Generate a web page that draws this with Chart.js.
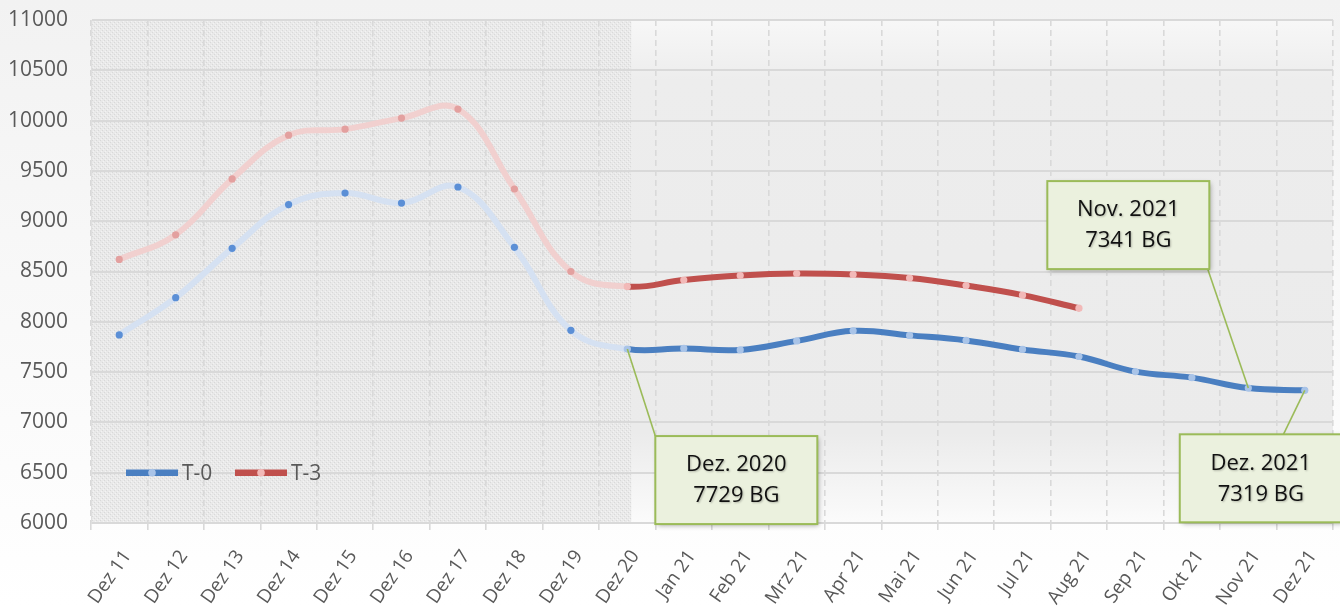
<!DOCTYPE html>
<html>
<head>
<meta charset="utf-8">
<script src="https://cdn.jsdelivr.net/npm/chart.js@4.4.1/dist/chart.umd.min.js"></script>
<style>
  html, body { margin: 0; padding: 0; background: #fff; }
  #wrap { width: 1340px; height: 606px; position: relative; }
</style>
</head>
<body>
<div id="wrap"><canvas id="c" width="1340" height="606"></canvas></div>
<script>
// ---- data ----
const categories = ['Dez 11','Dez 12','Dez 13','Dez 14','Dez 15','Dez 16','Dez 17','Dez 18','Dez 19','Dez 20',
  'Jan 21','Feb 21','Mrz 21','Apr 21','Mai 21','Jun 21','Jul 21','Aug 21','Sep 21','Okt 21','Nov 21','Dez 21'];
const seriesT0 = [7870, 8240, 8730, 9165, 9280, 9180, 9340, 8740, 7915, 7729,
  7735, 7720, 7810, 7910, 7865, 7815, 7725, 7655, 7505, 7445, 7341, 7319];
const seriesT3 = [8620, 8865, 9420, 9855, 9915, 10025, 10115, 9320, 8500, 8350,
  8415, 8460, 8480, 8470, 8435, 8360, 8265, 8135, null, null, null, null];
const seriesNames = ['T-0', 'T-3'];
const yMin = 6000, yMax = 11000, yStep = 500;
const historyEndIndex = 9; // Dez 20
const callouts = [
  { index: 9,  series: 0, lines: ['Dez. 2020', '7729 BG'] },
  { index: 20, series: 0, lines: ['Nov. 2021', '7341 BG'] },
  { index: 21, series: 0, lines: ['Dez. 2021', '7319 BG'] }
];

// ---- styles ----
const styles = [
  { pale: '#d5e1f2', strong: '#4a7fc1', paleDot: '#5b8fd6', strongDot: '#a9c4e8' },
  { pale: '#f1d0cf', strong: '#c0504d', paleDot: '#e3a09f', strongDot: '#f2b9b8' }
];
const calloutBoxes = [
  { dx: 28,   dy: 87,   w: 162, h: 88, ax: 0.0,  ay: 0.0 },
  { dx: -201, dy: -207, w: 162, h: 88, ax: 0.99, ay: 1.0 },
  { dx: -125, dy: 44,   w: 162, h: 88, ax: 0.64, ay: 0.0 }
];

function makePattern(ctx) {
  const p = document.createElement('canvas');
  p.width = 4; p.height = 4;
  const g = p.getContext('2d');
  g.fillStyle = '#e8e8e8'; g.fillRect(0, 0, 4, 4);
  g.fillStyle = '#d6d6d6';
  g.fillRect(0, 0, 1, 1); g.fillRect(2, 2, 1, 1);
  g.fillStyle = '#f3f3f3';
  g.fillRect(1, 3, 1, 1); g.fillRect(3, 1, 1, 1);
  return ctx.createPattern(p, 'repeat');
}

const bgPlugin = {
  id: 'bg',
  beforeDraw(chart) {
    const { ctx, chartArea: a, width, height } = chart;
    ctx.save();
    let g = ctx.createLinearGradient(0, 0, 0, height);
    g.addColorStop(0, '#f2f2f2');
    g.addColorStop(1, '#ffffff');
    ctx.fillStyle = g;
    ctx.fillRect(0, 0, width, height);
    g = ctx.createLinearGradient(0, a.top, 0, a.bottom);
    g.addColorStop(0, '#f7f7f7');
    g.addColorStop(0.12, '#ededed');
    g.addColorStop(0.82, '#ebebeb');
    g.addColorStop(1, '#fbfbfb');
    ctx.fillStyle = g;
    ctx.fillRect(a.left, a.top, a.right - a.left, a.bottom - a.top);
    const xs = chart.scales.x;
    const xEnd = xs.getPixelForValue(historyEndIndex) + 4;
    ctx.fillStyle = makePattern(ctx);
    ctx.globalAlpha = 0.9;
    ctx.fillRect(a.left, a.top, xEnd - a.left, a.bottom - a.top);
    ctx.restore();
  }
};

const overlayPlugin = {
  id: 'overlay',
  afterDatasetsDraw(chart) {
    const { ctx } = chart;
    ctx.save();
    const legendY = chart.scales.y.getPixelForValue(6500);
    const legendItems = [{ x: 126 }, { x: 235 }];
    legendItems.forEach((it, i) => {
      ctx.strokeStyle = styles[i].strong;
      ctx.lineWidth = 6.5;
      ctx.beginPath(); ctx.moveTo(it.x, legendY); ctx.lineTo(it.x + 52, legendY); ctx.stroke();
      ctx.fillStyle = styles[i].strongDot;
      ctx.beginPath(); ctx.arc(it.x + 26, legendY, 3.8, 0, Math.PI * 2); ctx.fill();
      ctx.fillStyle = '#595959';
      ctx.font = '21px "Open Sans"';
      ctx.textBaseline = 'middle';
      ctx.textAlign = 'left';
      ctx.fillText(seriesNames[i], it.x + 56, legendY + 1);
    });
    callouts.forEach((c, k) => {
      const pt = chart.getDatasetMeta(c.series).data[c.index];
      const b = calloutBoxes[k];
      const bx = pt.x + b.dx, by = pt.y + b.dy;
      const lx = bx + b.w * b.ax, ly = by + b.h * b.ay;
      ctx.strokeStyle = '#9bbb59';
      ctx.lineWidth = 1.6;
      ctx.beginPath(); ctx.moveTo(pt.x, pt.y); ctx.lineTo(lx, ly); ctx.stroke();
    });
    callouts.forEach((c, k) => {
      const pt = chart.getDatasetMeta(c.series).data[c.index];
      const b = calloutBoxes[k];
      const bx = pt.x + b.dx, by = pt.y + b.dy;
      ctx.save();
      ctx.shadowColor = 'rgba(0,0,0,0.35)';
      ctx.shadowBlur = 5; ctx.shadowOffsetX = 2; ctx.shadowOffsetY = 2;
      ctx.fillStyle = '#ebf1de';
      ctx.fillRect(bx, by, b.w, b.h);
      ctx.restore();
      ctx.strokeStyle = '#9bbb59';
      ctx.lineWidth = 2;
      ctx.strokeRect(bx, by, b.w, b.h);
      ctx.save();
      ctx.fillStyle = '#111111';
      ctx.font = '22px "Open Sans"';
      ctx.textAlign = 'center';
      ctx.textBaseline = 'middle';
      ctx.shadowColor = 'rgba(0,0,0,0.25)';
      ctx.shadowBlur = 2; ctx.shadowOffsetX = 1; ctx.shadowOffsetY = 1;
      ctx.fillText(c.lines[0], bx + b.w / 2, by + 29);
      ctx.fillText(c.lines[1], bx + b.w / 2, by + 60);
      ctx.restore();
    });
    ctx.restore();
  }
};

function makeDataset(label, values, st, order) {
  return {
    label,
    data: values,
    order,
    borderColor: st.strong,
    borderWidth: 6,
    tension: 0.4,
    spanGaps: false,
    borderCapStyle: 'round',
    pointRadius: 3.6,
    pointBorderWidth: 0,
    pointBackgroundColor: values.map((v, i) => i < historyEndIndex ? st.paleDot : st.strongDot),
    segment: {
      borderColor: ctx => ctx.p1DataIndex <= historyEndIndex ? st.pale : st.strong
    }
  };
}

new Chart(document.getElementById('c'), {
  type: 'line',
  data: {
    labels: categories,
    datasets: [
      makeDataset(seriesNames[0], seriesT0, styles[0], 0),
      makeDataset(seriesNames[1], seriesT3, styles[1], 1)
    ]
  },
  options: {
    responsive: false,
    animation: false,
    layout: { padding: { top: 20, right: 7, left: 0, bottom: 0 } },
    plugins: { legend: { display: false }, tooltip: { enabled: false } },
    scales: {
      x: {
        offset: true,
        grid: { offset: true, color: '#d9d9d9', lineWidth: 1.6, tickLength: 7, tickColor: '#d9d9d9', drawTicks: true },
        border: { display: true, color: '#d9d9d9', width: 2, dash: [6, 4] },
        ticks: { color: '#595959', font: { family: 'Open Sans', size: 19 }, maxRotation: 55, minRotation: 55,
                 autoSkip: false, padding: 16, labelOffset: 8 },
        afterFit: s => { s.height = 83; s.paddingLeft = 0; s.paddingRight = 0; }
      },
      y: {
        min: yMin, max: yMax,
        grid: { color: '#d9d9d9', lineWidth: 2, drawTicks: false },
        border: { display: true, color: '#dedede', width: 1 },
        ticks: { stepSize: yStep, color: '#595959', font: { family: 'Open Sans', size: 21 }, padding: 23,
                 callback: v => String(v) },
        afterFit: s => { s.width = 91; s.paddingTop = 0; s.paddingBottom = 0; }
      }
    }
  },
  plugins: [bgPlugin, overlayPlugin]
});
</script>
</body>
</html>
